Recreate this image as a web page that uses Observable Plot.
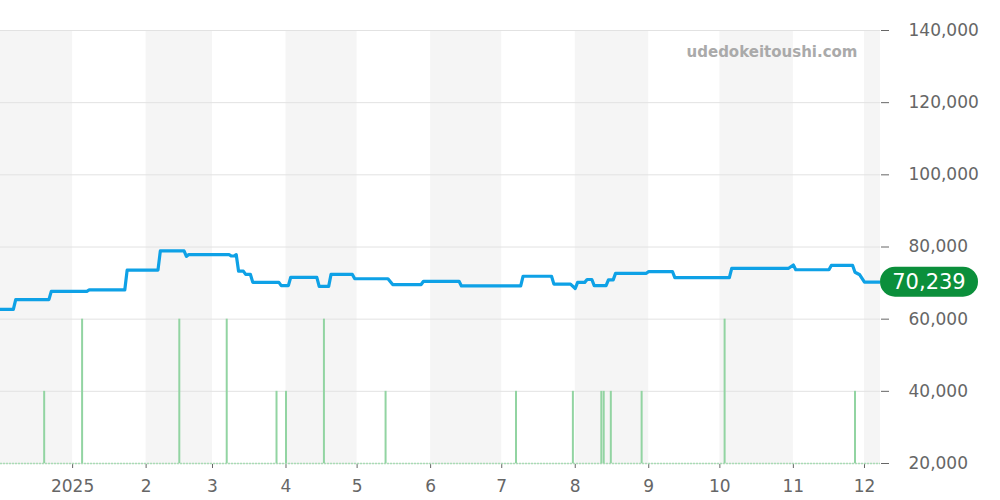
<!DOCTYPE html>
<html>
<head>
<meta charset="utf-8">
<script src="https://cdn.jsdelivr.net/npm/d3@7"></script>
<script src="https://cdn.jsdelivr.net/npm/@observablehq/plot@0.6"></script>
<style>
  html, body { margin: 0; padding: 0; background: #fff; }
  #chart { width: 1000px; height: 500px; }
</style>
</head>
<body>
<div id="chart"></div>
<script>
// ---- data ----
const priceDates = [
  "2024-12-01","2024-12-07","2024-12-08","2024-12-22","2024-12-23",
  "2025-01-07","2025-01-08","2025-01-23","2025-01-24",
  "2025-02-06","2025-02-07","2025-02-17","2025-02-18","2025-02-19",
  "2025-03-08","2025-03-09","2025-03-10","2025-03-11","2025-03-12","2025-03-14","2025-03-15","2025-03-17","2025-03-18","2025-03-29","2025-03-30",
  "2025-04-02","2025-04-03","2025-04-14","2025-04-15","2025-04-19","2025-04-20","2025-04-29","2025-04-30",
  "2025-05-14","2025-05-16","2025-05-28","2025-05-29",
  "2025-06-13","2025-06-14",
  "2025-07-09","2025-07-10","2025-07-22","2025-07-23","2025-07-30",
  "2025-08-01","2025-08-02","2025-08-05","2025-08-06","2025-08-08","2025-08-09","2025-08-14","2025-08-15","2025-08-17","2025-08-18","2025-08-31",
  "2025-09-01","2025-09-11","2025-09-12",
  "2025-10-05","2025-10-06","2025-10-30",
  "2025-11-01","2025-11-02","2025-11-16","2025-11-17","2025-11-26","2025-11-27","2025-11-29",
  "2025-12-01","2025-12-08"
];
const priceValues = [
  62700,62700,65400,65400,67700,
  67700,68100,68100,73600,
  73600,78900,78900,77400,77900,
  77900,77500,77500,77900,73300,73300,72400,72400,70200,70200,69300,
  69300,71600,71600,69100,69100,72400,72400,71200,
  71200,69600,69600,70500,
  70500,69200,
  69200,71900,71900,69700,69700,
  68500,70200,70200,71000,71000,69300,69300,70900,70900,72700,72700,
  73200,73200,71500,
  71500,74100,74100,
  75000,73700,73700,74900,74900,73000,72300,
  70239,70239
];
const salesDates = [
  "2024-12-20","2025-01-05","2025-02-15","2025-03-07","2025-03-28","2025-04-01",
  "2025-04-17","2025-05-13","2025-07-07","2025-07-31","2025-08-12","2025-08-13",
  "2025-08-16","2025-08-29","2025-10-03","2025-11-27"
];
const salesTops = [
  40000,60000,60000,60000,40000,40000,
  60000,40000,40000,40000,40000,40000,
  40000,40000,60000,40000
];
const yTicks = [20000, 40000, 60000, 80000, 100000, 120000, 140000];
const latestLabel = "70,239";
const latestValue = 70239;
const watermark = "udedokeitoushi.com";

// ---- tables ----
const price = priceDates.map((d, i) => ({date: new Date(d + "T00:00Z"), value: priceValues[i]}));
const sales = salesDates.map((d, i) => ({date: new Date(d + "T00:00Z"), top: salesTops[i]}));
const xDomain = [new Date("2024-12-01T14:00Z"), new Date("2025-12-07T18:00Z")];
const months = d3.utcMonth.range(new Date("2024-12-01T00:00Z"), new Date("2026-01-01T00:00Z"));
const bands = months.filter(m => m.getUTCMonth() % 2 === 1)
  .map(m => ({start: m, end: d3.utcMonth.offset(m, 1)}));
const xTicks = d3.utcMonth.range(new Date("2025-01-01T00:00Z"), new Date("2025-12-02T00:00Z"));

const chart = Plot.plot({
  width: 1000,
  height: 500,
  marginLeft: 0,
  marginRight: 120,
  marginTop: 30,
  marginBottom: 37,
  style: {fontFamily: "DejaVu Sans", fontSize: "17px", color: "#666", background: "#fff", overflow: "visible"},
  x: {
    type: "utc",
    domain: xDomain,
    ticks: xTicks,
    tickFormat: d => d.getUTCMonth() === 0 ? String(d.getUTCFullYear()) : String(d.getUTCMonth() + 1),
    tickSize: 5,
    tickPadding: 11,
    label: null
  },
  y: {
    domain: [20000, 140000],
    axis: "right",
    ticks: yTicks,
    tickFormat: d3.format(","),
    tickSize: 8,
    tickPadding: 20,
    label: null
  },
  marks: [
    Plot.rect(bands, {x1: "start", x2: "end", fill: "#f5f5f5", clip: true}),
    Plot.ruleY(yTicks, {stroke: "#e2e2e2", strokeWidth: 1}),
    Plot.ruleY([20000], {stroke: "#a9dcb5", strokeWidth: 1.5, strokeDasharray: "2,1"}),
    Plot.ruleX(sales, {x: "date", y1: 20000, y2: "top", stroke: "#92d4a2", strokeWidth: 2}),
    Plot.line(price, {x: "date", y: "value", stroke: "#0ea1e6", strokeWidth: 3.2, clip: true}),
    Plot.text([watermark], {frameAnchor: "top-right", lineAnchor: "middle", dx: -23, dy: 22, text: d => d,
      fill: "#aaaaaa", fontWeight: "bold", fontSize: 15, textAnchor: "end"})
  ]
});

// latest-price pill on the right axis, positioned through the y scale
const yPos = chart.scale("y").apply(latestValue);
const svg = d3.select(chart);
const g = svg.append("g");
g.append("rect")
  .attr("x", 880).attr("y", yPos - 15)
  .attr("width", 98).attr("height", 30)
  .attr("rx", 15).attr("ry", 15)
  .attr("fill", "#0b8f3b");
g.append("text")
  .attr("x", 929).attr("y", yPos)
  .attr("dy", "0.35em")
  .attr("text-anchor", "middle")
  .attr("fill", "#fff")
  .attr("font-family", "DejaVu Sans")
  .attr("font-size", 21)
  .text(latestLabel);

document.getElementById("chart").appendChild(chart);
</script>
</body>
</html>
